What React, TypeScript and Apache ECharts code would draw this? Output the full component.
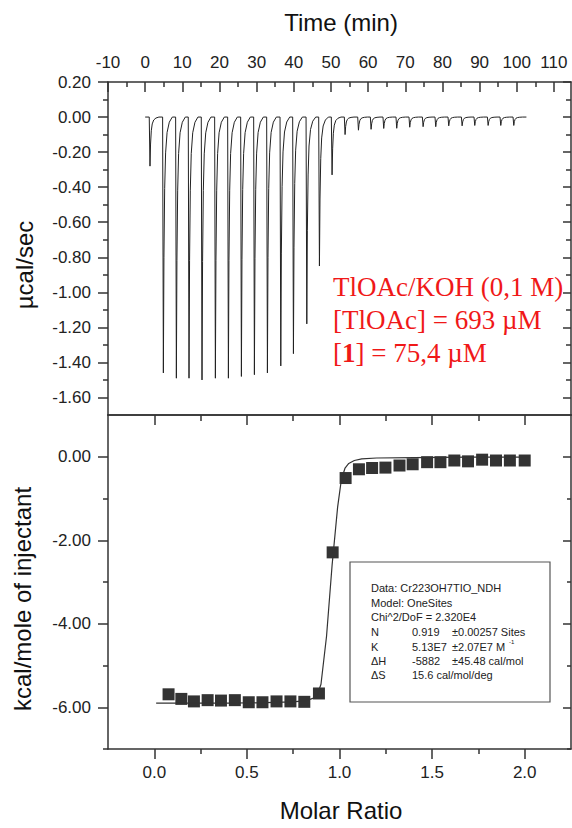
import React, { useEffect, useRef } from "react";
import * as echarts from "echarts";

// ---- tick values ----
const timeTicks = [-10, 0, 10, 20, 30, 40, 50, 60, 70, 80, 90, 100, 110];
const timeMinorTicks = [-5, 5, 15, 25, 35, 45, 55, 65, 75, 85, 95, 105];
const powerTicks = [0.2, 0, -0.2, -0.4, -0.6, -0.8, -1.0, -1.2, -1.4, -1.6];
const powerMinorTicks = [0.1, -0.1, -0.3, -0.5, -0.7, -0.9, -1.1, -1.3, -1.5];
const ratioTicks = [0, 0.5, 1.0, 1.5, 2.0];
const ratioMinorTicks = [0.25, 0.75, 1.25, 1.75];
const heatTicks = [0, -2, -4, -6];
const heatMinorTicks = [-1, -3, -5, -7];

// ---- raw thermogram (injection peaks) ----
const peakTimes = [1.3, 4.9, 8.4, 11.8, 15.3, 18.9, 22.4, 25.9, 29.4, 32.9, 36.5, 39.9, 43.5, 46.9, 50.3,
  53.8, 57.4, 60.8, 64.2, 67.7, 71.2, 74.8, 78.2, 81.7, 85.3, 88.7, 92.3, 95.7, 99.2];
const peakDepths = [-0.28, -1.46, -1.49, -1.49, -1.50, -1.49, -1.49, -1.48, -1.47, -1.46, -1.42, -1.35, -1.18, -0.85, -0.33,
  -0.10, -0.075, -0.07, -0.065, -0.064, -0.058, -0.055, -0.055, -0.05, -0.05, -0.048, -0.048, -0.048, -0.048];
const baselineStart = 0;
const baselineEnd = 102.6;
// peak shape (time offset after injection, fraction of depth)
const spikeOffsets = [-0.2, 0, 0.15, 0.35, 0.6, 1.0, 1.6, 2.4];
const spikeFractions = [0, 1, 0.55, 0.28, 0.14, 0.06, 0.02, 0];

// ---- integrated heats ----
const molarRatio = [0.077, 0.146, 0.214, 0.288, 0.36, 0.435, 0.51, 0.584, 0.66, 0.735, 0.81, 0.889, 0.963,
  1.033, 1.105, 1.176, 1.248, 1.324, 1.395, 1.473, 1.545, 1.62, 1.694, 1.77, 1.845, 1.92, 2.0];
const heatPerMole = [-5.69, -5.80, -5.86, -5.83, -5.84, -5.83, -5.88, -5.88, -5.86, -5.86, -5.87, -5.67, -2.29,
  -0.51, -0.30, -0.27, -0.26, -0.21, -0.18, -0.13, -0.13, -0.09, -0.11, -0.07, -0.09, -0.09, -0.09];
const fitRatio = [0.01, 0.2, 0.4, 0.6, 0.75, 0.82, 0.86, 0.88, 0.9, 0.93, 0.96, 0.99, 1.01, 1.03, 1.05, 1.08, 1.12, 1.2, 1.4, 1.7, 2.02];
const fitHeat = [-5.90, -5.90, -5.90, -5.89, -5.87, -5.84, -5.78, -5.70, -5.45, -4.3, -2.6, -1.2, -0.55, -0.27, -0.16, -0.09, -0.05, -0.03, -0.02, -0.01, -0.01];

const sans = "Liberation Sans, Arial, Helvetica, sans-serif";
const serif = "Liberation Serif, Times New Roman, serif";
const axisColor = "#333";
const labelColor = "#222";
const red = "#f01818";

function buildThermogram(): number[][] {
  const pts: number[][] = [[baselineStart, 0]];
  peakTimes.forEach((t, i) => {
    spikeOffsets.forEach((o, j) => {
      pts.push([t + o, peakDepths[i] * spikeFractions[j]]);
    });
  });
  pts.push([baselineEnd, 0]);
  return pts;
}

function axis(opts: any) {
  const {
    gridIndex, position, min, max, line = false, ticks = [], tickLen = 5, inside = false,
    labels = null, labelMargin = 8, fmt = null,
  } = opts;
  return {
    type: "value",
    gridIndex,
    position,
    min,
    max,
    axisLine: { show: line, onZero: false, lineStyle: { color: axisColor, width: 1.5 } },
    axisTick: {
      show: ticks.length > 0,
      inside,
      length: tickLen,
      customValues: ticks,
      lineStyle: { color: axisColor, width: 1.5 },
    },
    axisLabel: labels
      ? {
          show: true,
          customValues: labels,
          margin: labelMargin,
          fontSize: 17,
          fontFamily: sans,
          color: labelColor,
          formatter: fmt,
        }
      : { show: false },
    splitLine: { show: false },
    minorTick: { show: false },
    axisPointer: { show: false },
  };
}

export default function App() {
  const ref = useRef<HTMLDivElement>(null);

  useEffect(() => {
    if (!ref.current) return;
    const chart = echarts.init(ref.current, undefined, { renderer: "svg" });

    const tMin = -10, tMax = 114.6;
    const pMin = -1.7, pMax = 0.2;
    const rMin = -0.25, rMax = 2.25;
    const hMin = -7, hMax = 1;
    const f1 = (v: number) => v.toFixed(1);
    const f2 = (v: number) => v.toFixed(2);

    const option: any = {
      animation: false,
      backgroundColor: "#fff",
      grid: [
        { left: 108, top: 82, width: 463, height: 333 },
        { left: 108, top: 415, width: 463, height: 334 },
      ],
      xAxis: [
        axis({ gridIndex: 0, position: "top", min: tMin, max: tMax, line: true, ticks: timeTicks, tickLen: 10, inside: true, labels: timeTicks, labelMargin: 11, fmt: (v: number) => String(v) }),
        axis({ gridIndex: 0, position: "top", min: tMin, max: tMax, ticks: timeMinorTicks, tickLen: 5, inside: true }),
        axis({ gridIndex: 0, position: "bottom", min: tMin, max: tMax, line: true }),
        axis({ gridIndex: 1, position: "bottom", min: rMin, max: rMax, line: true, ticks: ratioTicks, tickLen: 10, labels: ratioTicks, labelMargin: 15, fmt: f1 }),
        axis({ gridIndex: 1, position: "bottom", min: rMin, max: rMax, ticks: ratioMinorTicks, tickLen: 5 }),
        axis({ gridIndex: 1, position: "top", min: rMin, max: rMax, line: true, ticks: ratioTicks, tickLen: 10, inside: true }),
        axis({ gridIndex: 1, position: "top", min: rMin, max: rMax, ticks: ratioMinorTicks, tickLen: 6, inside: true }),
      ],
      yAxis: [
        axis({ gridIndex: 0, position: "left", min: pMin, max: pMax, line: true, ticks: powerTicks, tickLen: 10, labels: powerTicks, labelMargin: 17, fmt: f2 }),
        axis({ gridIndex: 0, position: "left", min: pMin, max: pMax, ticks: powerMinorTicks, tickLen: 5 }),
        axis({ gridIndex: 0, position: "right", min: pMin, max: pMax, line: true, ticks: powerTicks, tickLen: 8, inside: true }),
        axis({ gridIndex: 0, position: "right", min: pMin, max: pMax, ticks: powerMinorTicks, tickLen: 5, inside: true }),
        axis({ gridIndex: 1, position: "left", min: hMin, max: hMax, line: true, ticks: heatTicks, tickLen: 10, labels: heatTicks, labelMargin: 17, fmt: f2 }),
        axis({ gridIndex: 1, position: "left", min: hMin, max: hMax, ticks: heatMinorTicks, tickLen: 5 }),
        axis({ gridIndex: 1, position: "right", min: hMin, max: hMax, line: true, ticks: heatTicks, tickLen: 8, inside: true }),
        axis({ gridIndex: 1, position: "right", min: hMin, max: hMax, ticks: heatMinorTicks, tickLen: 4, inside: true }),
      ],
      series: [
        {
          type: "line",
          xAxisIndex: 0,
          yAxisIndex: 0,
          data: buildThermogram(),
          showSymbol: false,
          symbol: "none",
          lineStyle: { color: "#222", width: 1 },
          silent: true,
        },
        {
          type: "line",
          xAxisIndex: 3,
          yAxisIndex: 4,
          data: fitRatio.map((x, i) => [x, fitHeat[i]]),
          showSymbol: false,
          symbol: "none",
          lineStyle: { color: "#333", width: 1.2 },
          silent: true,
        },
        {
          type: "scatter",
          xAxisIndex: 3,
          yAxisIndex: 4,
          data: molarRatio.map((x, i) => [x, heatPerMole[i]]),
          symbol: "rect",
          symbolSize: 12,
          itemStyle: { color: "#000" },
          silent: true,
        },
      ],
      graphic: [
        { type: "text", x: 341, y: 22, style: { text: "Time (min)", font: `24px ${sans}`, fill: "#111", align: "center", verticalAlign: "middle" } },
        { type: "text", x: 341, y: 810, style: { text: "Molar Ratio", font: `24px ${sans}`, fill: "#111", align: "center", verticalAlign: "middle" } },
        { type: "text", x: 24, y: 265, rotation: Math.PI / 2, style: { text: "µcal/sec", font: `24px ${sans}`, fill: "#111", align: "center", verticalAlign: "middle" } },
        { type: "text", x: 22, y: 599, rotation: Math.PI / 2, style: { text: "kcal/mole of injectant", font: `24px ${sans}`, fill: "#111", align: "center", verticalAlign: "middle" } },
        // red annotation
        { type: "text", x: 333, y: 287, style: { text: "TlOAc/KOH (0,1 M)", font: `27px ${serif}`, fill: red, align: "left", verticalAlign: "middle" } },
        { type: "text", x: 333, y: 320, style: { text: "[TlOAc] = 693 µM", font: `27px ${serif}`, fill: red, align: "left", verticalAlign: "middle" } },
        {
          type: "text", x: 333, y: 353,
          style: {
            text: "{a|[}{b|1}{a|] = 75,4 µM}",
            align: "left", verticalAlign: "middle",
            rich: {
              a: { fontSize: 27, fontFamily: serif, fill: red },
              b: { fontSize: 27, fontFamily: serif, fontWeight: "bold", fill: red },
            },
          },
        },
        // fit results box
        { type: "rect", shape: { x: 350, y: 562, width: 200, height: 140 }, style: { fill: "#fff", stroke: "#555", lineWidth: 1.2 }, z: 10 },
        ...[
          ["Data: Cr223OH7TIO_NDH", 371, 588],
          ["Model: OneSites", 371, 603],
          ["Chi^2/DoF = 2.320E4", 371, 617],
          ["N", 371, 632], ["0.919", 412, 632], ["±0.00257 Sites", 452, 632],
          ["K", 371, 647], ["5.13E7", 412, 647], ["±2.07E7 M", 452, 647],
          ["ΔH", 371, 661], ["-5882", 412, 661], ["±45.48 cal/mol", 452, 661],
          ["ΔS", 371, 675], ["15.6 cal/mol/deg", 412, 675],
        ].map(([t, x, y]) => ({
          type: "text", x, y, z: 11,
          style: { text: t, font: `11px ${sans}`, fill: "#222", align: "left", verticalAlign: "middle" },
        })),
        { type: "text", x: 509, y: 642, z: 11, style: { text: "-1", font: `6px ${sans}`, fill: "#222", align: "left", verticalAlign: "middle" } },
      ],
    };

    chart.setOption(option);
    return () => chart.dispose();
  }, []);

  return (
    <div
      ref={ref}
      style={{ position: "fixed", left: 0, top: 0, width: 572, height: 828, background: "#fff" }}
    />
  );
}
